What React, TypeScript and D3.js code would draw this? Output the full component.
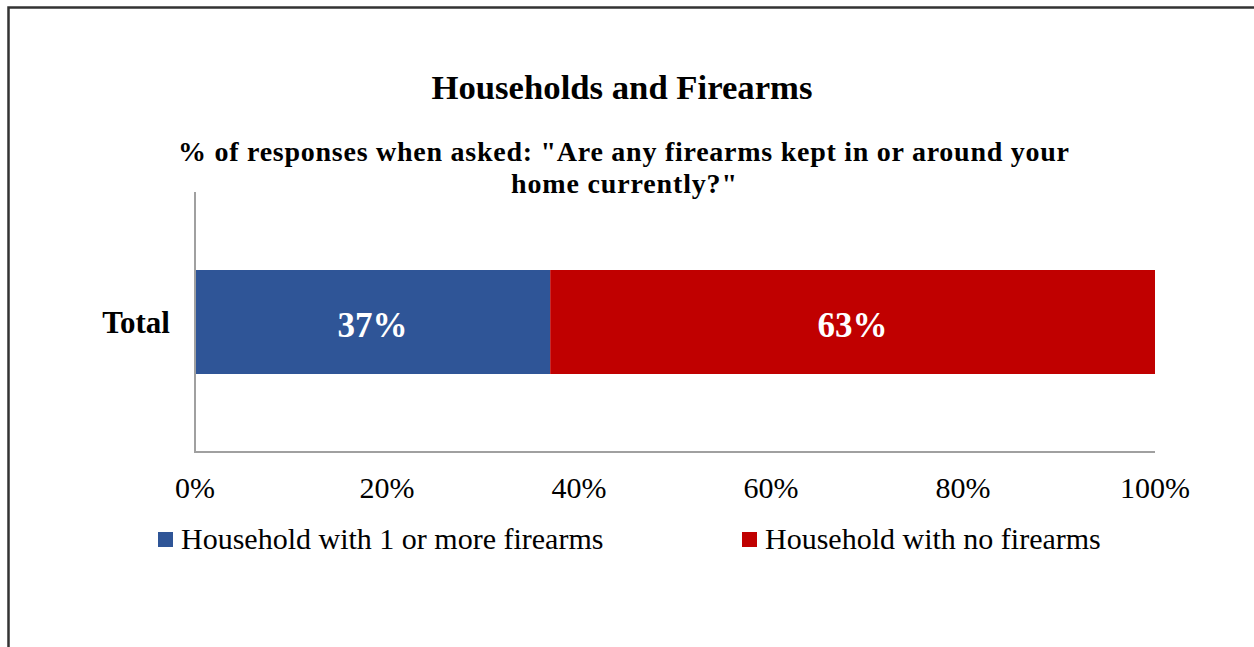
import React from "react";
import * as d3 from "d3";

const categories = ["Total"];
const seriesNames = ["Household with 1 or more firearms", "Household with no firearms"];
const seriesColors = ["#2F5597", "#C00000"];
const withFirearms = [37];
const noFirearms = [63];
const xTicks = [0, 20, 40, 60, 80, 100];

export default function App() {
  const W = 1254, H = 647;
  const left = 195, right = 1155, top = 192, bottom = 452;
  const x = d3.scaleLinear().domain([0, 100]).range([left, right]);
  const y = d3.scaleBand().domain(categories).range([top, bottom]).paddingInner(0.6).paddingOuter(0.3);
  const stackData = categories.map((c, i) => ({ cat: c, a: withFirearms[i], b: noFirearms[i] }));
  const stack = d3.stack<any>().keys(["a", "b"])(stackData);
  const font = "'Liberation Serif', 'Times New Roman', serif";
  const bandMid = (c: string) => (y(c) as number) + y.bandwidth() / 2;
  return (
    <svg width={W} height={H} style={{ position: "absolute", left: 0, top: 0, fontFamily: font }}>
      <rect x={0} y={0} width={W} height={H} fill="#fff" />
      <rect x={8.5} y={7.5} width={1260} height={700} fill="none" stroke="#333" strokeWidth={2.5} />
      <text x={622} y={99} textAnchor="middle" fontWeight="bold" fontSize={34.7}>Households and Firearms</text>
      <text x={178} y={161} fontWeight="bold" fontSize={28} textLength={891} lengthAdjust="spacing">% of responses when asked: "Are any firearms kept in or around your</text>
      <text x={511} y={193} fontWeight="bold" fontSize={28} textLength={226} lengthAdjust="spacing">home currently?"</text>
      {stack.map((s, si) =>
        s.map((d, di) => (
          <g key={`${si}-${di}`}>
            <rect x={x(d[0])} y={y(categories[di])} width={x(d[1]) - x(d[0])} height={y.bandwidth()} fill={seriesColors[si]} />
            <text x={(x(d[0]) + x(d[1])) / 2} y={bandMid(categories[di]) + 15} textAnchor="middle" fill="#fff" fontWeight="bold" fontSize={35}>
              {`${d[1] - d[0]}%`}
            </text>
          </g>
        ))
      )}
      <line x1={left} x2={left} y1={top} y2={bottom} stroke="#A0A0A0" strokeWidth={2} />
      <line x1={left - 1} x2={right} y1={bottom} y2={bottom} stroke="#A0A0A0" strokeWidth={2} />
      {categories.map((c) => (
        <text key={c} x={170} y={bandMid(c) + 11} textAnchor="end" fontWeight="bold" fontSize={31}>{c}</text>
      ))}
      {xTicks.map((t) => (
        <text key={t} x={x(t)} y={498} textAnchor="middle" fontSize={30}>{`${t}%`}</text>
      ))}
      {seriesNames.map((n, i) => {
        const lx = i === 0 ? 158 : 742;
        return (
          <g key={n}>
            <rect x={lx} y={532} width={15} height={15} fill={seriesColors[i]} />
            <text x={lx + 23} y={549} fontSize={30}>{n}</text>
          </g>
        );
      })}
    </svg>
  );
}
